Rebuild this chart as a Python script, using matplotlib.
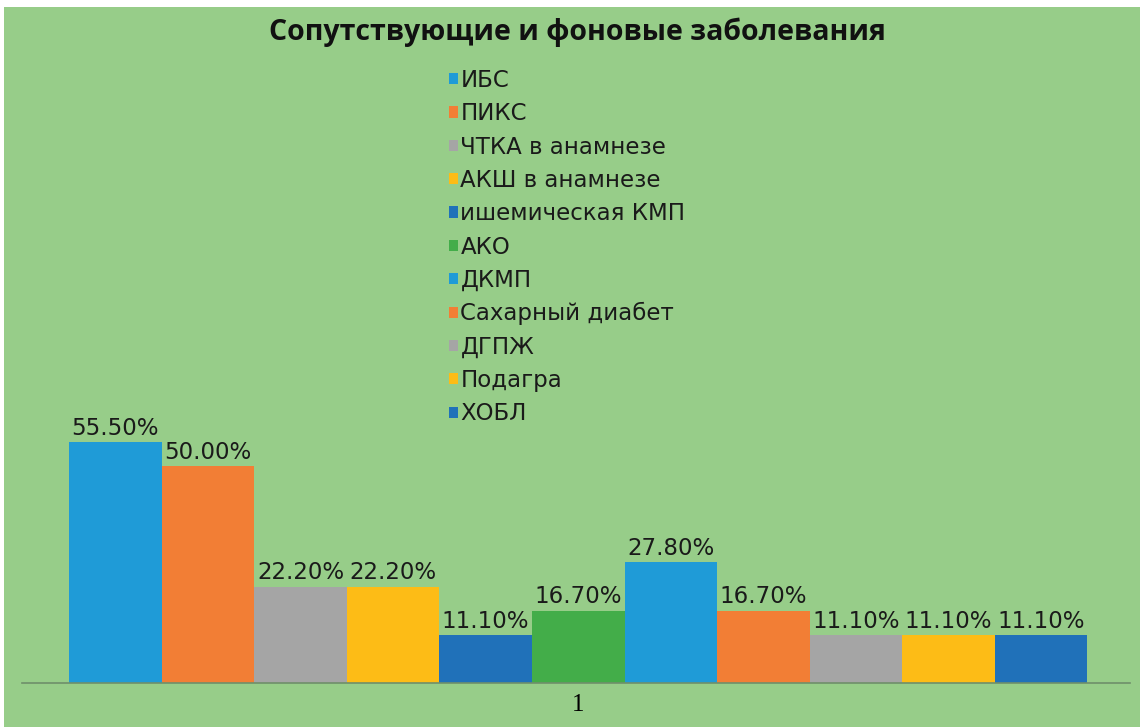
import matplotlib.pyplot as plt
from matplotlib.patches import Rectangle

# Data
names = ['ИБС', 'ПИКС', 'ЧТКА в анамнезе', 'АКШ в анамнезе', 'ишемическая КМП',
         'АКО', 'ДКМП', 'Сахарный диабет', 'ДГПЖ', 'Подагра', 'ХОБЛ']
values = [55.5, 50.0, 22.2, 22.2, 11.1, 16.7, 27.8, 16.7, 11.1, 11.1, 11.1]
colors = ['#1F9BD7', '#F27E35', '#A5A5A5', '#FDBC16', '#2071B9', '#43AD49',
          '#1F9BD7', '#F27E35', '#A5A5A5', '#FDBC16', '#2071B9']
group_label = '1'

W, H = 1140, 727
bg = '#97CD89'

fig = plt.figure(figsize=(W / 100, H / 100), dpi=100, facecolor='white')
fig.patches.append(Rectangle((4 / W, 0), 1, 1 - 7 / H, transform=fig.transFigure,
                             facecolor=bg, edgecolor='none', zorder=-10))

# axes: baseline at y=683 px, top at 60 px; x from 22 to 1130 px
ax = fig.add_axes([22 / W, 1 - 683 / H, (1130 - 22) / W, (683 - 60) / H])
ax.set_facecolor('none')

for i, (n, v, c) in enumerate(zip(names, values, colors)):
    ax.bar(i, v, width=1.0, align='edge', color=c, label=n, edgecolor='none')
    ax.text(i + 0.5, v + 0.5, f'{v:.2f}%', ha='center', va='bottom',
            fontsize=16.5, family='DejaVu Sans', color='#1a1a1a')

ax.set_xlim(-0.508, 11.46)
ax.set_ylim(0, (683 - 60) / 4.34)
for s in ['top', 'right', 'left']:
    ax.spines[s].set_visible(False)
ax.spines['bottom'].set_color('#6f8f6a')
ax.spines['bottom'].set_linewidth(1.2)
ax.set_yticks([])
ax.set_xticks([len(values) / 2])
ax.set_xticklabels([group_label], family='Liberation Serif', fontsize=18)
ax.tick_params(axis='x', length=0, pad=8)

fig.text(577 / W, 1 - 32 / H, 'Сопутствующие и фоновые заболевания',
         ha='center', va='center', fontsize=20.5, fontweight='bold',
         family='Open Sans', color='#111111')

leg = fig.legend(loc='upper left', bbox_to_anchor=(449 / W, 1 - 69 / H),
                 frameon=False, borderpad=0, borderaxespad=0,
                 handlelength=0.38, handleheight=0.38, handletextpad=0.12,
                 labelspacing=0.45, prop={'family': 'DejaVu Sans', 'size': 16.5})
for t in leg.get_texts():
    t.set_color('#1a1a1a')

fig.savefig('out.png', dpi=100, facecolor=fig.get_facecolor())
